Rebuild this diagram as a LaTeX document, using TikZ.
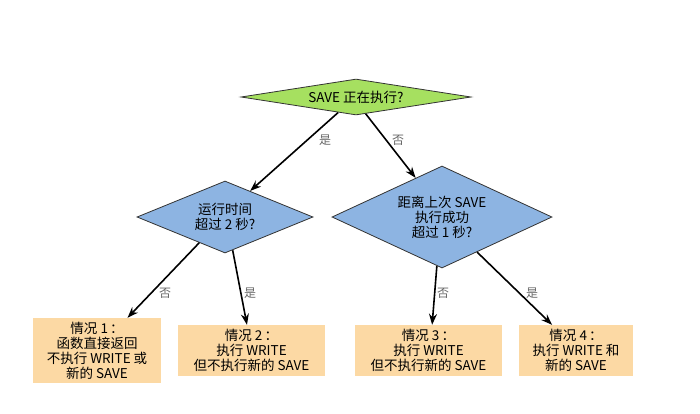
\documentclass[tikz,border=0pt]{standalone}
\usepackage{fontspec}
\setmainfont{Noto Sans CJK SC}
\usetikzlibrary{shapes.geometric,arrows.meta}
\definecolor{dgreen}{HTML}{A6E060}
\definecolor{dblue}{HTML}{8DB4E2}
\definecolor{borange}{HTML}{FCD9A4}
\definecolor{edgegray}{HTML}{333333}
\definecolor{lblgray}{HTML}{666666}
\tikzset{
  dec/.style={diamond, draw=edgegray, line width=0.8pt, inner sep=0pt, align=center,
    font=\fontsize{13.5}{15}\selectfont},
  casebox/.style={rectangle, fill=borange, draw=none, inner sep=0pt, align=center,
    font=\fontsize{13.5}{15}\selectfont},
  lbl/.style={text=lblgray, inner sep=0pt, font=\fontsize{12}{14}\selectfont},
  arr/.style={line width=1.6pt, -{Stealth[length=11pt,width=8pt]}},
}
\newcommand{\cc}{\hspace{0.15em}：\hspace{0.15em}}
\begin{document}
\begin{tikzpicture}[x=1pt,y=-1pt]
\useasboundingbox (0,0) rectangle (700,413);
\node[dec, fill=dgreen, minimum width=230pt, minimum height=36pt, aspect=6.4] (top) at (356,97) {SAVE 正在执行?};
\node[dec, fill=dblue, minimum width=176pt, minimum height=72pt, aspect=2.44] (left) at (225,217) {运行时间\\超过 2 秒?};
\node[dec, fill=dblue, minimum width=220pt, minimum height=102pt, aspect=2.16] (right) at (442,217) {距离上次 SAVE\\执行成功\\超过 1 秒?};
\node[casebox, minimum width=128pt, minimum height=65pt] (b1) at (97,350.5) {情况 1\cc\\函数直接返回\\不执行 WRITE 或\\新的 SAVE};
\node[casebox, minimum width=147pt, minimum height=51pt] (b2) at (251.5,350.5) {情况 2\cc\\执行 WRITE\\但不执行新的 SAVE};
\node[casebox, minimum width=147pt, minimum height=51pt] (b3) at (428.5,350.5) {情况 3\cc\\执行 WRITE\\但不执行新的 SAVE};
\node[casebox, minimum width=114pt, minimum height=51pt] (b4) at (576,350.5) {情况 4\cc\\执行 WRITE 和\\新的 SAVE};
\draw[arr] (top.221.6) -- (left.46);
\draw[arr] (top.300.5) -- (right.124.7);
\draw[arr] (left.225) -- (b1.47.3);
\draw[arr] (left.283.8) -- (b2.100);
\draw[arr] (right.264.1) -- (b3.82.2);
\draw[arr] (right.315) -- (b4.133.3);
\node[lbl] (l1) at (325,140) {是};
\node[lbl] (l2) at (398,140) {否};
\node[lbl] (l3) at (165,293) {否};
\node[lbl] (l4) at (250,293) {是};
\node[lbl] (l5) at (443,293) {否};
\node[lbl] (l6) at (532,293) {是};
\end{tikzpicture}
\end{document}
